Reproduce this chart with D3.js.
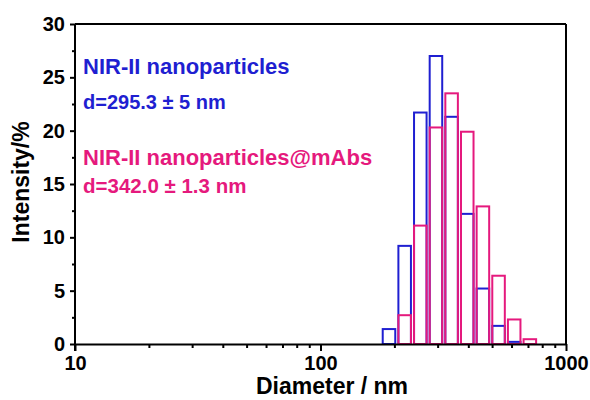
<!DOCTYPE html>
<html><head><meta charset="utf-8">
<script src="https://cdn.jsdelivr.net/npm/d3@7"></script>
<style>body{margin:0;background:#fff}svg{display:block}text{font-family:Arial,"Liberation Sans",sans-serif;font-weight:bold}</style>
</head><body>
<svg id="c" width="590" height="400"></svg>
<script>
const blueCenters = [190.1, 220.2, 255.0, 295.3, 342.0, 396.1, 458.7, 531.2, 615.1];
const blueValues  = [1.4, 9.2, 21.7, 27.0, 21.3, 12.2, 5.2, 1.7, 0.2];
const pinkCenters = [220.2, 255.0, 295.3, 342.0, 396.1, 458.7, 531.2, 615.1, 712.4];
const pinkValues  = [2.7, 11.1, 20.3, 23.5, 19.9, 12.9, 6.4, 2.3, 0.45];
const xTicks = [10, 100, 1000];
const yTicks = [0, 5, 10, 15, 20, 25, 30];
const labels = {
  blueName: "NIR-II nanoparticles", blueD: "d=295.3 \u00b1 5 nm",
  pinkName: "NIR-II nanoparticles@mAbs", pinkD: "d=342.0 \u00b1 1.3 nm",
  x: "Diameter / nm", y: "Intensity/%"
};
const BLUE = "#1f1fd1", PINK = "#e5197d";

const m = {l:75, r:566, t:24, b:344};
const svg = d3.select("#c");
const x = d3.scaleLog().domain([10, 1000]).range([m.l, m.r]);
const y = d3.scaleLinear().domain([0, 30]).range([m.b, m.t]);
const step = blueCenters[1] / blueCenters[0];
const half = Math.pow(step, 0.4);

function bars(centers, values, color) {
  svg.append("g").selectAll("rect").data(centers.map((c,i)=>({c, v: values[i]})))
    .join("rect")
    .attr("x", d => x(d.c / half))
    .attr("width", d => x(d.c * half) - x(d.c / half))
    .attr("y", d => y(d.v))
    .attr("height", d => y(0) - y(d.v))
    .attr("fill", "none").attr("stroke", color).attr("stroke-width", 2);
}
bars(blueCenters, blueValues, BLUE);
bars(pinkCenters, pinkValues, PINK);

// frame top/right
svg.append("line").attr("x1", m.l).attr("x2", m.r).attr("y1", m.t).attr("y2", m.t).attr("stroke","#000").attr("stroke-width",2);
svg.append("line").attr("x1", m.r).attr("x2", m.r).attr("y1", m.t).attr("y2", m.b).attr("stroke","#000").attr("stroke-width",2);

// x axis
const xMinor = [];
[10,100].forEach(b => { for (let k=2;k<=9;k++) xMinor.push(b*k); });
const gx = svg.append("g").attr("transform", `translate(0,${m.b})`);
gx.call(d3.axisBottom(x).tickValues(xMinor).tickSize(4).tickFormat(""));
gx.call(g => g.select(".domain").remove());
const gx2 = svg.append("g").attr("transform", `translate(0,${m.b})`)
  .call(d3.axisBottom(x).tickValues(xTicks).tickSize(7).tickPadding(3).tickFormat(d3.format("d")).tickSizeOuter(0));
gx2.attr("font-size", null);
gx2.selectAll("text").style("font-size", "20px").attr("fill","#000").attr("dy","0.78em");
gx2.select(".domain").attr("stroke-width", 2);

// y axis
const yMinor = yTicks.slice(0,-1).map(v => v + 2.5);
const gy = svg.append("g").attr("transform", `translate(${m.l},0)`)
  .call(d3.axisLeft(y).tickValues(yMinor).tickSize(3).tickFormat(""));
gy.select(".domain").remove();
const gy2 = svg.append("g").attr("transform", `translate(${m.l},0)`)
  .call(d3.axisLeft(y).tickValues(yTicks).tickSize(5).tickPadding(5).tickSizeOuter(0));
gy2.attr("font-size", null);
gy2.selectAll("text").style("font-size", "20px").attr("fill","#000");
gy2.select(".domain").attr("stroke-width", 2).attr("d", `M0,${m.b+7}V${m.t}`);
svg.selectAll(".tick line").attr("stroke-width", 2);

// annotations
const ann = [
  [labels.blueName, 74, 22, BLUE], [labels.blueD, 109, 20, BLUE],
  [labels.pinkName, 165, 22, PINK], [labels.pinkD, 193, 20.5, PINK]
];
ann.forEach(([t, yy, fs, c]) => svg.append("text").attr("x", 83).attr("y", yy)
  .style("font-size", fs + "px").attr("fill", c).text(t));

svg.append("text").attr("x", 332).attr("y", 394).attr("text-anchor","middle")
  .style("font-size", "23px").attr("fill","#000").text(labels.x);
svg.append("text").attr("transform", "translate(29,182) rotate(-90)").attr("text-anchor","middle")
  .style("font-size", "23px").attr("fill","#000").text(labels.y);
</script>
</body></html>
